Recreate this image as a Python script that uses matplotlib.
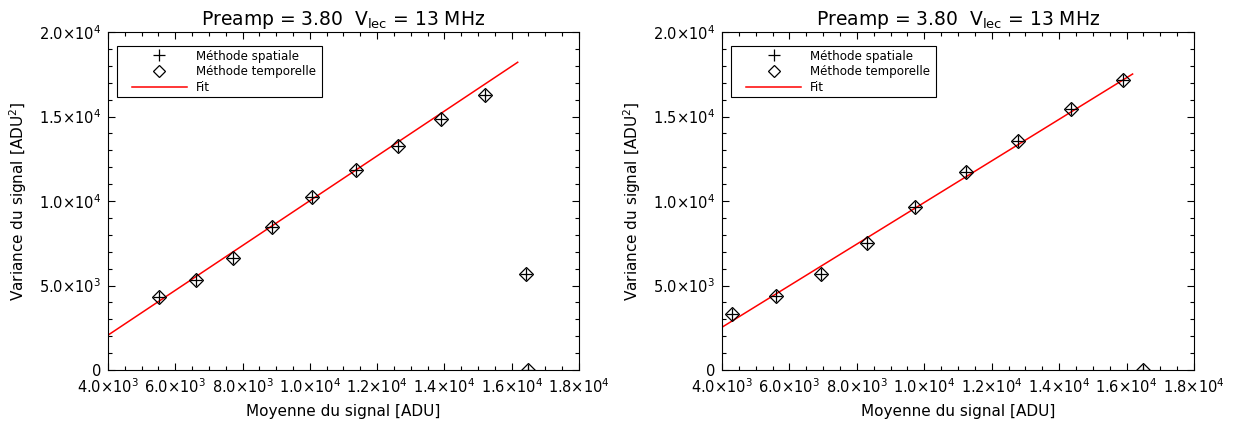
import matplotlib
matplotlib.use("Agg")
import matplotlib.pyplot as plt
from matplotlib.ticker import MultipleLocator, FuncFormatter
from matplotlib.lines import Line2D
from matplotlib.patches import Rectangle

# --------------------------------
# Data
# --------------------------------

left_mean = [5516, 6616, 7725, 8885, 10074, 11362, 12630, 13890, 15207, 16417, 16476]
left_var = [4337, 5325, 6647, 8481, 10257, 11834, 13274, 14833, 16272, 5661, 0]
left_fit_x = [4000, 16180]
left_fit_y = [2060, 18210]

right_mean = [4307, 5596, 6934, 8301, 9737, 11244, 12778, 14345, 15900, 16494]
right_var = [3313, 4398, 5680, 7495, 9625, 11696, 13570, 15424, 17160, 0]
right_fit_x = [4000, 16180]
right_fit_y = [2530, 17515]

title = "Preamp = 3.80  V$_{\\mathrm{lec}}$ = 13 MHz"
xlabel = "Moyenne du signal [ADU]"
ylabel = "Variance du signal [ADU$^2$]"
legend_labels = ["Méthode spatiale", "Méthode temporelle", "Fit"]

plt.rcParams["font.family"] = ["DejaVu Sans"]
plt.rcParams["mathtext.fontset"] = "dejavusans"


def sci(v, pos):
    if v == 0:
        return "0"
    e = len(str(int(abs(v)))) - 1
    m = v / 10 ** e
    return f"{m:.1f}×10$^{{{e}}}$"


fig = plt.figure(figsize=(12.45, 4.23), dpi=100)

ax1 = fig.add_axes([0.0867, 0.1253, 0.3783, 0.799])
ax2 = fig.add_axes([0.5799, 0.1253, 0.3791, 0.799])

MS = 7.0


def draw_panel(ax, xs, ys, fx, fy):

    ax.plot(fx, fy, color="red", linewidth=1.1, zorder=2)

    ax.plot(xs, ys, linestyle="none", marker="D", markersize=MS,
            markerfacecolor="none", markeredgecolor="black",
            markeredgewidth=0.9, zorder=3)
    ax.plot(xs, ys, linestyle="none", marker="+", markersize=MS + 1,
            color="black", markeredgewidth=0.9, zorder=3)

    ax.set_xlim(4000, 18000)
    ax.set_ylim(0, 20000)

    ax.xaxis.set_major_locator(MultipleLocator(2000))
    ax.xaxis.set_minor_locator(MultipleLocator(500))
    ax.yaxis.set_major_locator(MultipleLocator(5000))
    ax.yaxis.set_minor_locator(MultipleLocator(1000))
    ax.xaxis.set_major_formatter(FuncFormatter(sci))
    ax.yaxis.set_major_formatter(FuncFormatter(sci))

    ax.tick_params(which="both", direction="in", top=True, right=True,
                   width=0.8, labelsize=10.5, pad=5)
    ax.tick_params(which="major", length=5.2)
    ax.tick_params(which="minor", length=3.2)

    for s in ax.spines.values():
        s.set_linewidth(0.8)

    ax.set_title(title, fontsize=13.5, pad=5)
    ax.set_xlabel(xlabel, fontsize=11, labelpad=6)
    ax.set_ylabel(ylabel, fontsize=11, labelpad=7)

    # legend box drawn by hand so the handles can sit inset
    ax.add_patch(Rectangle((0.019, 0.808), 0.435, 0.151,
                           transform=ax.transAxes, fill=False,
                           edgecolor="black", linewidth=0.8, zorder=4))

    handles = [
        Line2D([], [], linestyle="none", marker="+", markersize=MS + 1,
               color="black", markeredgewidth=0.9),
        Line2D([], [], linestyle="none", marker="D", markersize=MS - 0.5,
               markerfacecolor="none", markeredgecolor="black",
               markeredgewidth=0.9),
        Line2D([], [], color="red", linewidth=1.1),
    ]
    ax.legend(handles, legend_labels, loc="upper left",
              bbox_to_anchor=(0.051, 0.948), fontsize=8.6,
              frameon=False, handlelength=4.6, handletextpad=0.75,
              labelspacing=0.22, borderpad=0, borderaxespad=0)


draw_panel(ax1, left_mean, left_var, left_fit_x, left_fit_y)
draw_panel(ax2, right_mean, right_var, right_fit_x, right_fit_y)

fig.savefig("out.png", dpi=100)
